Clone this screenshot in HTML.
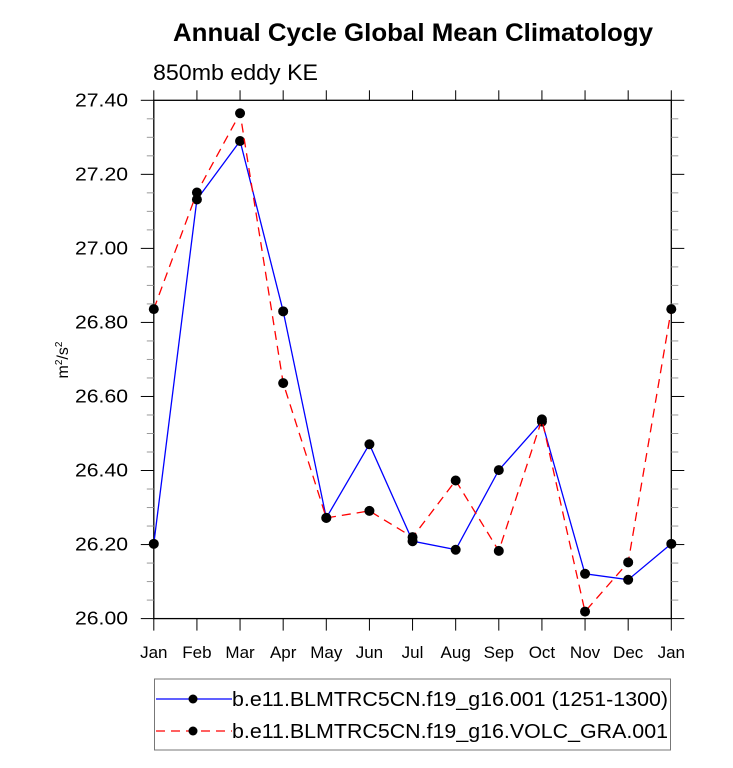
<!DOCTYPE html>
<html><head><meta charset="utf-8"><style>
html,body{margin:0;padding:0;background:#fff;}
svg{display:block;font-family:"Liberation Sans",Arial,sans-serif;}
</style></head><body>
<svg id="chart" width="733" height="768" viewBox="0 0 733 768" xmlns="http://www.w3.org/2000/svg">
<text x="173" y="41" font-size="25" font-weight="bold" textLength="480" lengthAdjust="spacingAndGlyphs">Annual Cycle Global Mean Climatology</text>
<text x="153" y="80" font-size="22" textLength="165" lengthAdjust="spacingAndGlyphs">850mb eddy KE</text>
<text transform="translate(68,360) rotate(-90)" text-anchor="middle" font-size="16">m<tspan font-size="10" dy="-6">2</tspan><tspan dy="6">/s</tspan><tspan font-size="10" dy="-6">2</tspan></text>
<g id="axes"></g>
<g id="series"></g>
<g>
<rect x="154.5" y="679" width="516" height="71" fill="none" stroke="#777" stroke-width="1"/>
<g>
<line x1="156" y1="699" x2="232" y2="699" stroke="#0000ff" stroke-width="1.3"/>
<circle cx="193" cy="699" r="4.5" fill="#000"/>
<text x="232" y="706" font-size="20" textLength="436" lengthAdjust="spacingAndGlyphs">b.e11.BLMTRC5CN.f19_g16.001 (1251-1300)</text>
</g>
<g>
<line x1="156" y1="731" x2="232" y2="731" stroke="#ff0000" stroke-width="1.3" stroke-dasharray="9,6"/>
<circle cx="193" cy="731" r="4.5" fill="#000"/>
<text x="232" y="738" font-size="20" textLength="436" lengthAdjust="spacingAndGlyphs">b.e11.BLMTRC5CN.f19_g16.VOLC_GRA.001</text>
</g>
</g>
</svg>
<script>
const months = ["Jan","Feb","Mar","Apr","May","Jun","Jul","Aug","Sep","Oct","Nov","Dec","Jan"];
const controlValues = [26.202,27.132,27.290,26.830,26.272,26.471,26.209,26.186,26.401,26.532,26.121,26.105,26.202];
const volcValues = [26.836,27.151,27.365,26.636,26.272,26.291,26.220,26.373,26.183,26.538,26.019,26.152,26.836];
const yTicks = [26.0,26.2,26.4,26.6,26.8,27.0,27.2,27.4];
const yTickLabels = ["26.00","26.20","26.40","26.60","26.80","27.00","27.20","27.40"];
const yMin = 26.0, yMax = 27.4;
const L = 153.8, R = 671.3, T = 100.3, B = 618.6;
const NS = "http://www.w3.org/2000/svg";
function xs(i){ return L + (R - L) * i / (months.length - 1); }
function ys(v){ return B - (v - yMin) / (yMax - yMin) * (B - T); }
function mk(tag, attrs, parent){ const e = document.createElementNS(NS, tag); for (const k in attrs) e.setAttribute(k, attrs[k]); parent.appendChild(e); return e; }
const axes = document.getElementById("axes");
const frame = mk("rect", {x:L, y:T, width:R-L, height:B-T, fill:"none", stroke:"#000", "stroke-width":1.3}, axes);


for (let v = yMin; v <= yMax + 1e-9; v += 0.05) {
  const y = ys(v);
  const major = Math.abs(Math.round(v*5) - v*5) < 1e-6;
  const len = major ? 13 : 7;
  const col = major ? "#000" : "#999";
  const t1 = mk("line", {x1:L-len, y1:y, x2:L, y2:y, stroke:col, "stroke-width":1}, axes);
  
  
  const t2 = mk("line", {x1:R, y1:y, x2:R+len, y2:y, stroke:col, "stroke-width":1}, axes);
  
  
}
yTicks.forEach((v, i) => {
  const t = mk("text", {x:128, y:ys(v)+6, "text-anchor":"end", "font-size":18, textLength:53, lengthAdjust:"spacingAndGlyphs"}, axes);
  t.textContent = yTickLabels[i];
  
  
});
months.forEach((m, i) => {
  const x = xs(i);
  const a = mk("line", {x1:x, y1:B, x2:x, y2:B+12, stroke:"#000", "stroke-width":1}, axes);
  
  
  const b = mk("line", {x1:x, y1:T-10, x2:x, y2:T, stroke:"#000", "stroke-width":1}, axes);
  
  
  const t = mk("text", {x:x, y:658, "text-anchor":"middle", "font-size":17}, axes);
  t.textContent = m;
  
  
});
const series = document.getElementById("series");
function drawSeries(vals, color, dash, name){
  const pts = vals.map((v,i) => xs(i).toFixed(1) + "," + ys(v).toFixed(1)).join(" ");
  const pl = mk("polyline", {points:pts, fill:"none", stroke:color, "stroke-width":1.3}, series);
  if (dash) pl.setAttribute("stroke-dasharray", dash);
  
  
  vals.forEach((v,i) => {
    const c = mk("circle", {cx:xs(i), cy:ys(v), r:5, fill:"#000"}, series);
    
    
  });
}
drawSeries(controlValues, "#0000ff", null, "control");
drawSeries(volcValues, "#ff0000", "9,6", "volc");
</script>
</body></html>
